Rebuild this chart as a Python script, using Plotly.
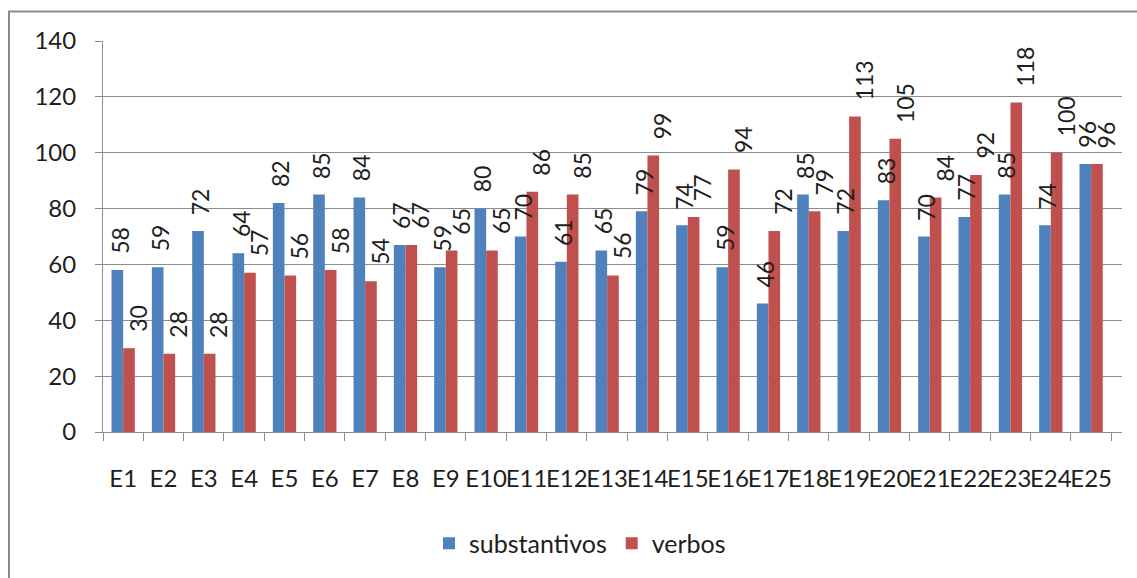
import plotly.graph_objects as go

# Data
categories = [f"E{i}" for i in range(1, 26)]
substantivos = [58, 59, 72, 64, 82, 85, 84, 67, 59, 80, 70, 61, 65, 79, 74,
                59, 46, 85, 72, 83, 70, 77, 85, 74, 96]
verbos = [30, 28, 28, 57, 56, 58, 54, 67, 65, 65, 86, 85, 56, 99, 77,
          94, 72, 79, 113, 105, 84, 92, 118, 100, 96]
y_ticks = [0, 20, 40, 60, 80, 100, 120, 140]

BLUE = "#4F81BD"
RED = "#C0504D"
GRID = "#8C8C8C"
TEXT = "#1E1E1E"
FONT = "Lato"

W, H = 1137, 578
M = dict(l=103, r=15, t=41, b=141)
plot_w = W - M["l"] - M["r"]
plot_h = H - M["t"] - M["b"]

fig = go.Figure()
fig.add_trace(go.Bar(x=categories, y=substantivos, name="substantivos",
                     marker=dict(color=BLUE, line=dict(width=0))))
fig.add_trace(go.Bar(x=categories, y=verbos, name="verbos",
                     marker=dict(color=RED, line=dict(width=0))))

# Rotated value labels above each bar
bar_px = plot_w / len(categories) * (1 - 0.423) / 2
annotations = []
for series, sign, nudge in ((substantivos, -1, 2), (verbos, 1, 9)):
    for cat, val in zip(categories, series):
        annotations.append(dict(
            x=cat, y=val, xref="x", yref="y", text=str(val),
            textangle=-90, showarrow=False, yanchor="bottom", xanchor="center",
            xshift=sign * bar_px / 2 + nudge, yshift=14,
            font=dict(family=FONT, size=23, color=TEXT),
        ))

fig.update_layout(
    width=W, height=H, margin=M,
    paper_bgcolor="white", plot_bgcolor="white",
    barmode="group", bargap=0.423, bargroupgap=0,
    font=dict(family=FONT, size=24, color=TEXT),
    showlegend=True,
    legend=dict(orientation="h", x=(580 - M["l"]) / plot_w, xanchor="center",
                y=-(550 - (H - M["b"])) / plot_h, yanchor="middle",
                font=dict(family=FONT, size=25, color=TEXT),
                itemwidth=30, traceorder="normal"),
    annotations=annotations,
    shapes=[dict(type="rect", xref="paper", yref="paper",
                 x0=(9 - M["l"]) / plot_w, x1=1.2,
                 y0=-0.6, y1=(H - M["b"] - 11) / plot_h,
                 line=dict(color="#8A8A8A", width=2), layer="below")],
)

fig.update_xaxes(
    showline=True, linecolor=GRID, linewidth=1,
    ticks="outside", tickson="boundaries", ticklen=8, tickcolor=GRID,
    tickangle=0, ticklabelstandoff=25,
    tickfont=dict(family=FONT, size=24, color=TEXT),
    showgrid=False,
)
fig.update_yaxes(
    range=[0, 140], tickvals=y_ticks, showgrid=True, gridcolor=GRID, gridwidth=1,
    showline=True, linecolor=GRID, linewidth=1,
    ticks="outside", ticklen=7, tickcolor=GRID, ticklabelstandoff=14,
    tickfont=dict(family=FONT, size=24, color=TEXT),
    zeroline=False,
)

fig.write_html("out.html")
